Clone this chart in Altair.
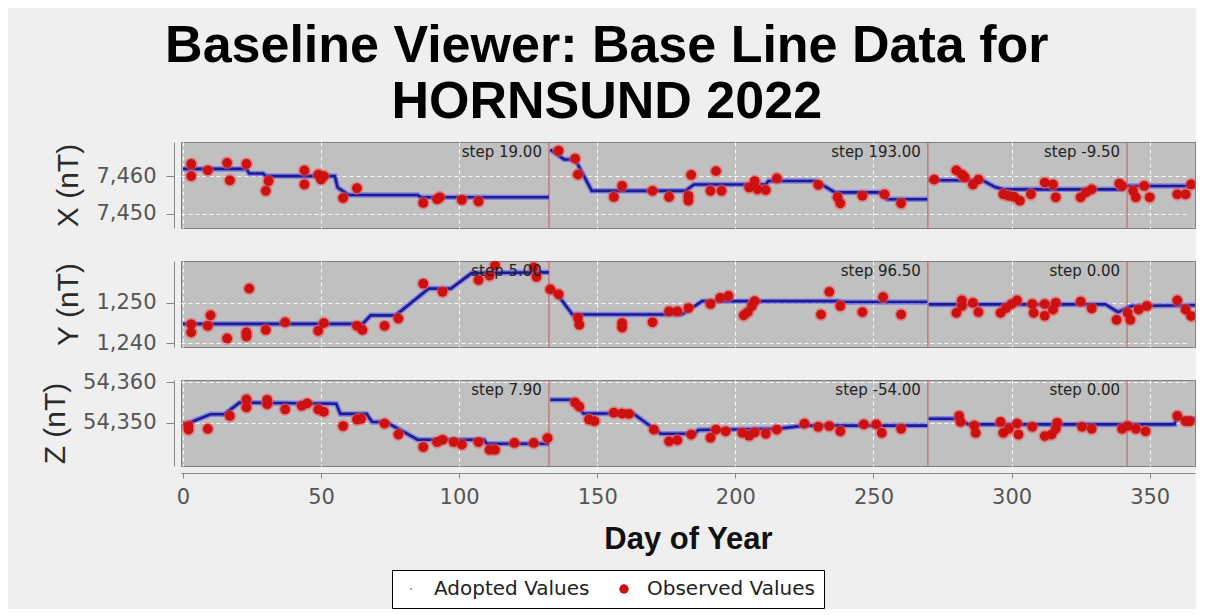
import altair as alt
import pandas as pd

TITLE_LINES = ["Baseline Viewer: Base Line Data for", "HORNSUND 2022"]
DAY_DOMAIN = [-0.7, 366.4]
DAY_TICKS = [0, 50, 100, 150, 200, 250, 300, 350]
STEP_DAYS = [132.5, 269.7, 341.8]
SEG_BREAKS = [132.5, 269.7]
SERIES = ["Adopted Values", "Observed Values"]

# ---------------- X component ----------------
X_DOMAIN = [7446.3, 7469.0]
X_TICKS = [7450, 7460]
X_STEPS = ["step 19.00", "step 193.00", "step -9.50"]
X_OBS_DAY = [3, 3, 9, 16, 17, 23, 30, 31, 44, 44, 49, 50, 51, 58, 63, 87, 92, 93, 101, 107,
             136, 142, 143, 156, 159, 170, 176, 183, 183, 184, 191, 193, 195, 205, 207, 208, 211, 215, 230, 237, 238, 246, 254, 260,
             272, 280, 282, 283, 286, 288, 297, 299, 301, 303, 307, 312, 315, 316, 325, 327, 329, 339, 340, 344, 345, 348, 350, 360, 363, 365]
X_OBS_VAL = [7463.2, 7460.0, 7461.5, 7463.5, 7458.9, 7463.2, 7456.1, 7458.7, 7461.5, 7457.8, 7460.4, 7459.1, 7460.0, 7454.2, 7456.8, 7452.9, 7453.9, 7454.4, 7453.7, 7453.3,
             7466.7, 7464.6, 7460.4, 7454.5, 7457.4, 7456.1, 7454.5, 7454.8, 7453.5, 7460.3, 7456.1, 7461.3, 7456.1, 7457.0, 7458.7, 7456.5, 7456.3, 7459.4, 7457.7, 7454.4, 7452.8, 7454.8, 7455.2, 7452.8,
             7459.1, 7461.5, 7460.4, 7459.7, 7457.8, 7459.1, 7455.2, 7454.8, 7454.5, 7453.5, 7455.2, 7458.3, 7457.8, 7454.4, 7454.4, 7455.7, 7456.5, 7458.0, 7457.4, 7456.1, 7454.4, 7457.4, 7454.4, 7455.2, 7455.2, 7457.8]
X_ADOPT_DAY = [0, 23, 24, 29, 30, 55, 56, 60, 85, 86, 132.5,
               133, 138, 142, 148, 182, 185, 211, 212, 229, 233, 236, 252, 255, 269.5,
               270, 289.5, 294, 297, 340, 341, 366.4]
X_ADOPT_VAL = [7461.9, 7461.9, 7460.7, 7460.7, 7460.0, 7460.0, 7457.0, 7455.0, 7455.0, 7454.4, 7454.4,
               7467.0, 7464.4, 7464.4, 7456.1, 7456.1, 7457.8, 7457.8, 7458.7, 7458.7, 7457.0, 7455.7, 7455.7, 7453.9, 7453.9,
               7458.9, 7458.9, 7457.1, 7456.5, 7456.5, 7457.4, 7457.4]

# ---------------- Y component ----------------
Y_DOMAIN = [1239.1, 1260.3]
Y_TICKS = [1240, 1250]
Y_STEPS = ["step 5.00", "step 96.50", "step 0.00"]
Y_OBS_DAY = [3, 3, 10, 9, 16, 23, 23, 24, 30, 37, 49, 51, 63, 65, 73, 78, 87, 94, 107, 111, 113, 127, 128,
             133, 136, 143, 143.5, 159, 159, 170, 176, 179, 183, 191, 194.5, 197.5, 203, 204.5, 206, 207, 231, 234, 238, 246, 253.5, 260,
             280, 282, 282, 286, 288, 296, 298, 300, 302, 307.5, 308, 312, 312, 315, 316, 325, 329, 338, 342, 343, 346, 349, 360, 363, 365]
Y_OBS_VAL = [1244.7, 1242.7, 1246.9, 1244.3, 1241.2, 1242.7, 1241.7, 1253.5, 1243.3, 1245.2, 1243.1, 1245.0, 1244.3, 1243.3, 1244.3, 1246.1, 1254.7, 1252.7, 1255.6, 1256.7, 1259.2, 1258.7, 1256.4,
             1253.3, 1252.1, 1246.3, 1244.6, 1245.0, 1243.9, 1245.2, 1247.9, 1247.9, 1248.7, 1249.7, 1251.2, 1251.7, 1246.9, 1247.7, 1249.2, 1250.4, 1247.1, 1252.7, 1249.2, 1247.7, 1251.4, 1247.1,
             1247.5, 1250.6, 1249.2, 1250.0, 1247.7, 1247.5, 1248.7, 1249.7, 1250.6, 1249.7, 1247.5, 1249.7, 1246.8, 1248.3, 1250.0, 1250.3, 1248.6, 1245.8, 1247.5, 1245.8, 1248.3, 1249.2, 1250.6, 1248.3, 1246.7]
Y_ADOPT_DAY = [0, 65, 68, 77, 89, 97, 104.5, 132.5,
               133, 136.5, 141, 180.5, 188, 237.5, 238.5, 269.5,
               270, 334, 338.5, 343.5, 366.4]
Y_ADOPT_VAL = [1244.8, 1244.8, 1246.9, 1246.9, 1253.5, 1253.5, 1257.3, 1257.5,
               1253.3, 1251.2, 1247.1, 1247.1, 1250.4, 1250.4, 1250.2, 1250.2,
               1249.6, 1249.6, 1247.7, 1249.2, 1249.4]

# ---------------- Z component ----------------
Z_DOMAIN = [54339.3, 54360.6]
Z_TICKS = [54350, 54360]
Z_STEPS = ["step 7.90", "step -54.00", "step 0.00"]
Z_OBS_DAY = [2, 2, 9, 17, 23, 23, 30.5, 30.5, 37, 43, 45, 49, 51, 58, 63, 64.5, 73, 78, 87, 92, 94, 98, 101, 107, 111, 113, 120, 127, 132,
             142, 143.5, 147, 149, 156, 159, 161.5, 170.5, 176, 179, 184, 191, 193, 196.5, 202.5, 205, 207, 211, 215, 225, 230, 234, 238, 246.5, 251, 253, 260,
             281, 281.5, 286.5, 287, 296, 297, 299, 302, 302.5, 307.5, 312, 314.5, 316, 316.5, 325.5, 329, 340, 342, 345, 348.5, 360, 363, 364.5]
Z_OBS_VAL = [54349.2, 54348.3, 54348.5, 54351.7, 54355.8, 54353.8, 54355.7, 54354.6, 54353.3, 54354.2, 54354.8, 54353.3, 54352.7, 54349.2, 54350.8, 54351.0, 54349.8, 54347.1, 54344.0, 54345.2, 54345.8, 54345.2, 54344.6, 54345.2, 54343.3, 54343.3, 54345.0, 54345.0, 54346.2,
             54355.0, 54354.0, 54350.8, 54350.4, 54352.5, 54352.3, 54352.2, 54348.3, 54345.4, 54345.7, 54347.1, 54346.3, 54348.3, 54347.9, 54347.5, 54346.8, 54347.6, 54347.3, 54348.3, 54349.8, 54349.0, 54349.2, 54347.9, 54349.6, 54349.6, 54347.5, 54348.5,
             54351.7, 54350.2, 54349.3, 54347.5, 54350.2, 54347.5, 54348.5, 54349.8, 54347.1, 54349.0, 54346.7, 54347.1, 54348.5, 54350.0, 54349.0, 54348.5, 54348.5, 54349.2, 54348.5, 54347.9, 54351.7, 54350.4, 54350.4]
Z_ADOPT_DAY = [0, 1.5, 10, 15, 20.5, 55.5, 57, 66.5, 68.5, 73.5, 85, 109, 110, 132.5,
               133, 141, 145, 163, 173, 185.5, 186.5, 215, 225, 269.5,
               270, 280, 284.5, 359, 359.5, 366.4]
Z_ADOPT_VAL = [54349.8, 54349.8, 54352.1, 54352.1, 54355.0, 54354.7, 54352.2, 54352.2, 54350.2, 54350.2, 54345.8, 54345.8, 54344.8, 54344.8,
               54355.7, 54355.7, 54352.3, 54352.3, 54347.3, 54347.3, 54348.2, 54348.5, 54349.3, 54349.3,
               54351.0, 54351.0, 54349.6, 54349.6, 54351.0, 54351.0]

SMALL_DOT = "M -0.18 0 A 0.18 0.18 0 1 0 0.18 0 A 0.18 0.18 0 1 0 -0.18 0 Z"

LEGEND = alt.Legend(title=None, orient="none", legendX=211, legendY=428, direction="horizontal",
                    strokeColor="black", fillColor="white", padding=9, labelFont="DejaVu Sans",
                    labelFontSize=20, labelColor="#222222", symbolSize=90, labelOffset=13,
                    columnPadding=24, symbolStrokeWidth=0, labelLimit=400)


def panel(comp, obs_day, obs_val, adj_day, adj_val, steps, domain, ticks, bottom):
    obs = pd.DataFrame({"day": obs_day, "val": obs_val, "series": "Observed Values"})
    adj = pd.DataFrame({"day": adj_day, "val": adj_val})
    adj["seg"] = [sum(d > b for b in SEG_BREAKS) for d in adj_day]
    st = pd.DataFrame({"day": STEP_DAYS, "label": steps})

    if bottom:
        xaxis = alt.Axis(values=DAY_TICKS, title="Day of Year", grid=True, offset=7)
    else:
        xaxis = alt.Axis(values=DAY_TICKS, title=None, grid=True, labels=False, ticks=False, domain=False)
    xenc = alt.X("day:Q", scale=alt.Scale(domain=DAY_DOMAIN, nice=False, zero=False), axis=xaxis)
    yenc = alt.Y("val:Q", scale=alt.Scale(domain=domain, nice=False, zero=False),
                 axis=alt.Axis(values=ticks, format=",.0f", title=f"{comp} (nT)"))

    rules = alt.Chart(st).mark_rule(color="#c05a5a", strokeWidth=1).encode(x=xenc)
    halo_line = alt.Chart(adj).mark_line(color="#4d4dff", strokeWidth=5.5, opacity=0.55, clip=True).encode(
        x=xenc, y=yenc, detail="seg:N")
    core_line = alt.Chart(adj).mark_line(color="#1c1c90", strokeWidth=2.6, clip=True).encode(
        x=xenc, y=yenc, detail="seg:N")
    halo_pts = alt.Chart(obs).mark_circle(color="#ee5555", size=170, opacity=0.55, clip=True).encode(x=xenc, y=yenc)
    pts = alt.Chart(obs).mark_point(filled=True, opacity=1, size=95, clip=True).encode(
        x=xenc, y=yenc,
        color=alt.Color("series:N", scale=alt.Scale(domain=SERIES, range=["#333333", "#cc1111"]), legend=LEGEND),
        shape=alt.Shape("series:N", scale=alt.Scale(domain=SERIES, range=[SMALL_DOT, "circle"]), legend=LEGEND),
    )
    labels = alt.Chart(st).mark_text(align="right", baseline="middle", dx=-7, dy=10,
                                     font="DejaVu Sans", fontSize=15, color="#222222").encode(
        x=xenc, y=alt.datum(domain[1]), text="label:N")
    return alt.layer(rules, halo_line, core_line, halo_pts, pts, labels).properties(width=1014, height=86)


px = panel("X", X_OBS_DAY, X_OBS_VAL, X_ADOPT_DAY, X_ADOPT_VAL, X_STEPS, X_DOMAIN, X_TICKS, False)
py = panel("Y", Y_OBS_DAY, Y_OBS_VAL, Y_ADOPT_DAY, Y_ADOPT_VAL, Y_STEPS, Y_DOMAIN, Y_TICKS, False)
pz = panel("Z", Z_OBS_DAY, Z_OBS_VAL, Z_ADOPT_DAY, Z_ADOPT_VAL, Z_STEPS, Z_DOMAIN, Z_TICKS, True)

chart = alt.vconcat(px, py, pz, spacing=33, bounds="flush").properties(
    title=alt.TitleParams(TITLE_LINES, font="Liberation Sans", fontSize=52, fontWeight="bold",
                          lineHeight=56, anchor="middle", color="black", offset=12, dx=-11),
    background="#efefef",
    padding={"left": 32, "top": 12, "right": 0, "bottom": 0},
).configure_view(
    fill="#c0c0c0", stroke="#7f7f7f", strokeWidth=1
).configure_axis(
    gridColor="white", gridDash=[4, 3], gridOpacity=0.9, gridWidth=1,
    domainColor="#888888", tickColor="#888888",
    labelFont="DejaVu Sans", labelFontSize=21, labelColor="#555555",
).configure_axisY(
    offset=7, tickSize=8, labelPadding=10, titlePadding=12,
    titleFont="Liberation Sans", titleFontSize=30, titleFontWeight="normal", titleColor="#2a2a2a",
).configure_axisX(
    tickSize=5, labelPadding=8, titlePadding=17,
    titleFont="Liberation Sans", titleFontSize=31, titleFontWeight="bold", titleColor="#111111",
)

chart.save("out.html", embed_options={"renderer": "svg", "actions": False})
